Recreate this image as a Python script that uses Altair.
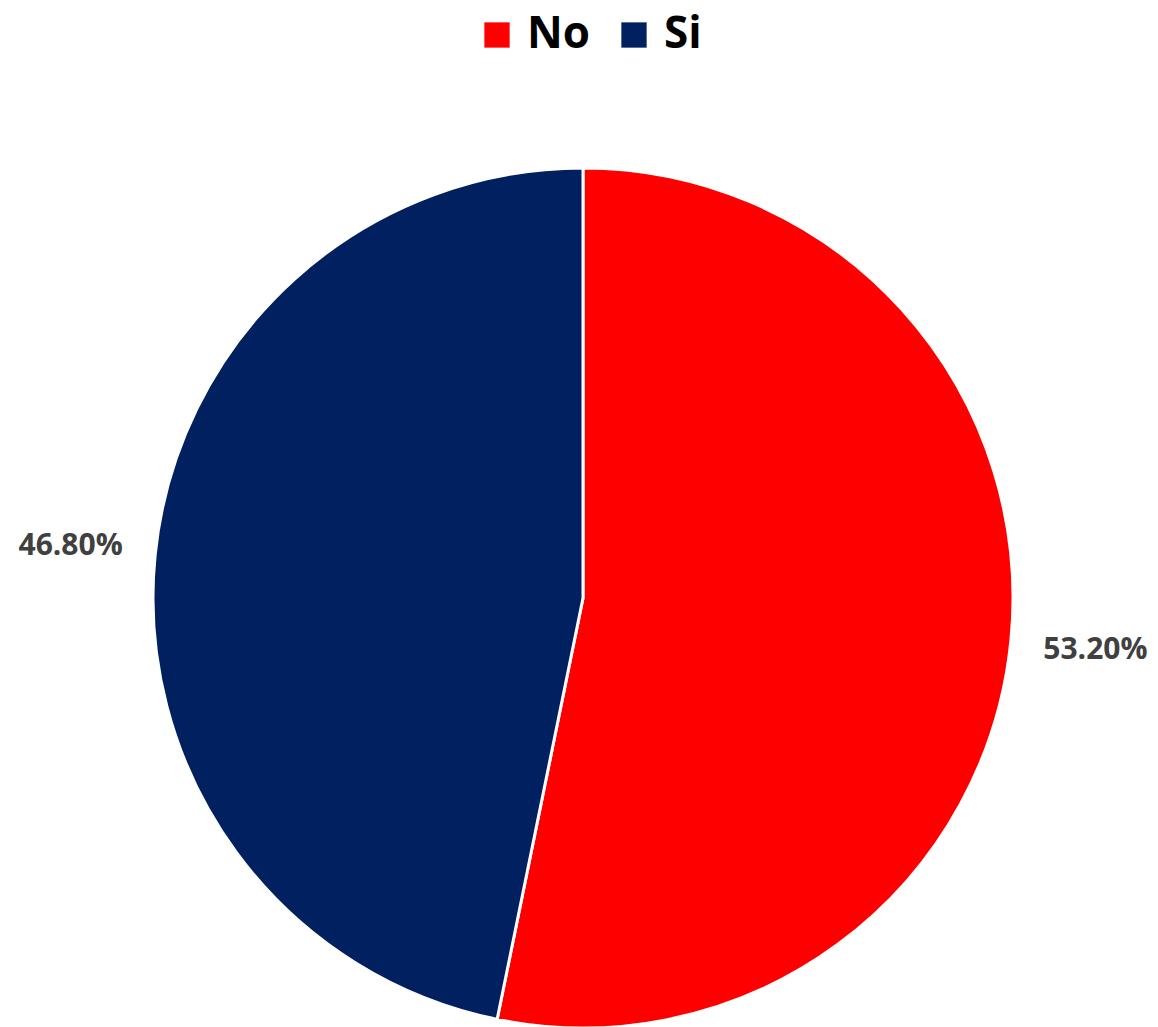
import altair as alt
import pandas as pd

categories = ["No", "Si"]
values = [53.2, 46.8]
labels = ["53.20%", "46.80%"]
colors = ["#FF0000", "#002060"]

df = pd.DataFrame({"cat": categories, "val": values, "label": labels, "ord": [0, 1]})

CX, CY = 575, 590

base = alt.Chart(df).encode(
    theta=alt.Theta("val:Q", stack=True),
    order=alt.Order("ord:Q"),
)

pie = base.mark_arc(outerRadius=430, stroke="white", strokeWidth=3).encode(
    color=alt.Color(
        "cat:N",
        scale=alt.Scale(domain=categories, range=colors),
        legend=alt.Legend(
            title=None,
            orient="none",
            legendX=467,
            legendY=5,
            direction="horizontal",
            symbolType="square",
            symbolSize=640,
            symbolStrokeWidth=0,
            symbolOpacity=1,
            labelFont="Open Sans",
            labelFontSize=44,
            labelFontWeight="bold",
            labelColor="#000000",
            labelOffset=8,
            columnPadding=21,
        ),
    ),
    x=alt.value(CX),
    y=alt.value(CY),
)

text = base.mark_text(
    radius=515,
    font="Open Sans",
    fontSize=30,
    fontWeight="bold",
    color="#404040",
    align="center",
    baseline="middle",
).encode(text="label:N", x=alt.value(CX), y=alt.value(CY))

chart = (
    alt.layer(pie, text)
    .properties(width=1142, height=1019, padding=0, autosize=alt.AutoSizeParams(type="none"))
    .configure_view(stroke=None)
)

chart.save("out.html", embed_options={"renderer": "svg", "actions": False})
